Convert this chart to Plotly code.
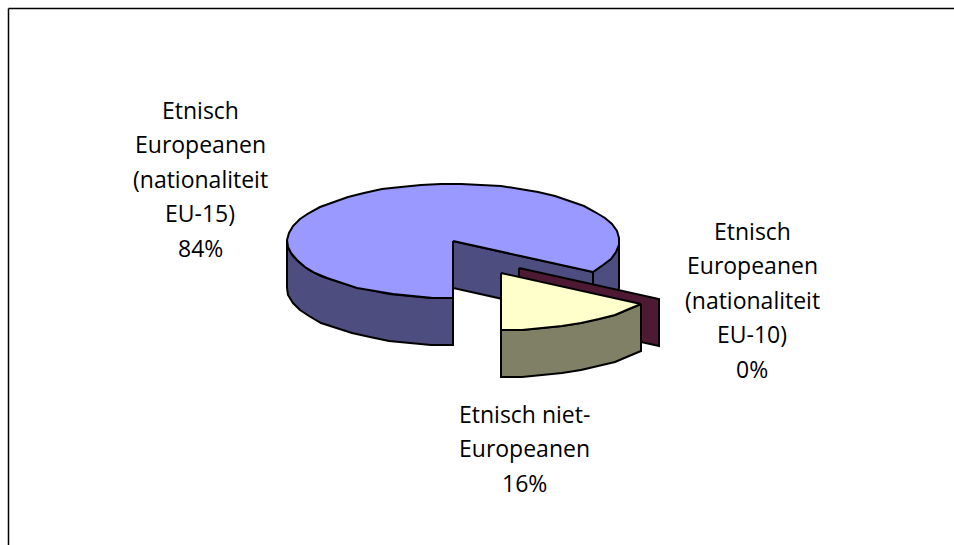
import numpy as np
import plotly.graph_objects as go

# Data
categories = ["Etnisch Europeanen (nationaliteit EU-15)",
              "Etnisch Europeanen (nationaliteit EU-10)",
              "Etnisch niet-Europeanen"]
shares = [84, 0, 16]
share_labels = ["84%", "0%", "16%"]
label_lines = [["Etnisch", "Europeanen", "(nationaliteit", "EU-15)"],
               ["Etnisch", "Europeanen", "(nationaliteit", "EU-10)"],
               ["Etnisch niet-", "Europeanen"]]
top_colors = ["#9999FF", "#993366", "#FFFFCC"]
side_colors = ["#4D4D80", "#4D1933", "#808066"]

W, H = 954, 545
CX, CY, RX, RY, DEPTH = 453.0, 241.0, 166.0, 57.0, 47.0
START = 180.0
SEG_DEG = 7.0
LW = 2.0

starts = START + np.cumsum([0] + shares[:-1]) * 3.6
ends = starts + np.array(shares) * 3.6
offsets = [(0.0, 0.0), (66.0, 27.0), (48.0, 32.0)]


def rim(a0, a1, dx=0.0, dy=0.0, drop=0.0):
    n = max(2, int(abs(a1 - a0) / SEG_DEG) + 1)
    a = np.radians(np.linspace(a0, a1, n))
    return np.round(CX + dx + RX * np.sin(a)), np.round(CY + dy + drop - RY * np.cos(a))


def poly(x, y, color):
    x = np.append(x, x[0])
    y = np.append(y, y[0])
    return go.Scatter(x=x, y=y, mode="lines", fill="toself", fillcolor=color,
                      line=dict(color="black", width=LW), hoverinfo="skip",
                      showlegend=False)


def wall(a0, a1, dx, dy, color):
    xt, yt = rim(a0, a1, dx, dy)
    xb, yb = rim(a0, a1, dx, dy, DEPTH)
    return poly(np.r_[xt, xb[::-1]], np.r_[yt, yb[::-1]], color)


def cut_wall(a, dx, dy, color):
    xr, yr = rim(a, a, dx, dy)
    xr, yr = xr[0], yr[0]
    x = np.array([CX + dx, xr, xr, CX + dx])
    y = np.array([CY + dy, yr, yr + DEPTH, CY + dy + DEPTH])
    return poly(x, y, color)


def top(a0, a1, dx, dy, color):
    xr, yr = rim(a0, a1, dx, dy)
    return poly(np.r_[CX + dx, xr], np.r_[CY + dy, yr], color)


fig = go.Figure()
# main slice
s, e = starts[0], ends[0]
fig.add_trace(wall(s, 270, 0, 0, side_colors[0]))
fig.add_trace(cut_wall(e, 0, 0, side_colors[0]))
fig.add_trace(wall(450, e, 0, 0, side_colors[0]))
fig.add_trace(top(s, e, 0, 0, top_colors[0]))
# zero-width slice: a single plane
dx, dy = offsets[1]
fig.add_trace(cut_wall(ends[0], dx, dy, side_colors[1]))
# exploded slice
dx, dy = offsets[2]
s, e = starts[2] - 360, ends[2] - 360
fig.add_trace(wall(s, e, dx, dy, side_colors[2]))
fig.add_trace(top(s, e, dx, dy, top_colors[2]))

FS = 23
FONT = dict(family="Open Sans", size=FS, color="black")
LEAD = 34.4
anchors = [(200, 110), (752, 231), (524, 414)]
for lines, pct, (ax, ay) in zip(label_lines, share_labels, anchors):
    for i, t in enumerate(lines + [pct]):
        fig.add_annotation(x=ax, y=ay + i * LEAD, text=t, showarrow=False,
                           xanchor="center", yanchor="middle", font=FONT)

fig.update_layout(
    width=W, height=H, margin=dict(l=0, r=0, t=0, b=0),
    paper_bgcolor="white", plot_bgcolor="white", showlegend=False,
    xaxis=dict(range=[0, W], visible=False, fixedrange=True),
    yaxis=dict(range=[H, 0], visible=False, fixedrange=True),
    shapes=[dict(type="line", x0=8.5, x1=W, y0=8.5, y1=8.5, line=dict(color="black", width=1.5)),
            dict(type="line", x0=8.5, x1=8.5, y0=8.5, y1=H, line=dict(color="black", width=1.5))],
)
fig.write_html("out.html", config={"displayModeBar": False},
               post_script="document.body.style.margin='0';")
